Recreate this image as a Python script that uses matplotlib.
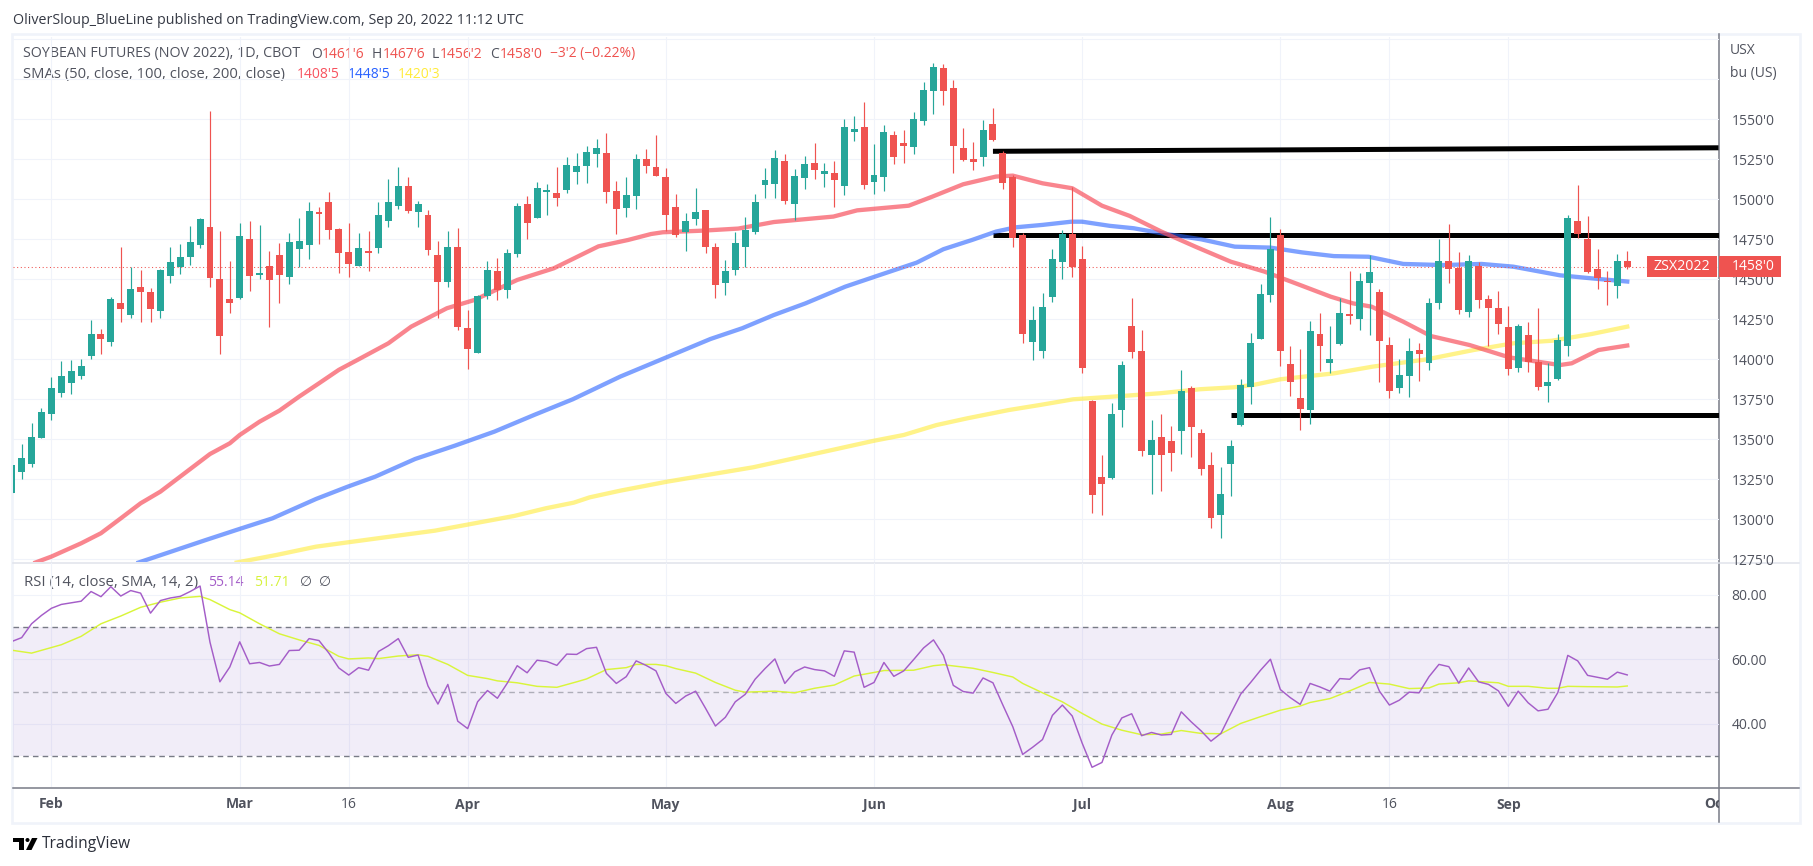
import matplotlib
matplotlib.use('Agg')
import matplotlib.pyplot as plt
from matplotlib.patches import Rectangle, Polygon, Circle

W, H = 1813, 866

# bar numbers: 0 is Feb 1
first_bar = -4
opens = [1316.5,1329.8,1334.8,1351,1366,1379.2,1385.4,1389.8,1402.3,1415.6,
         1411,1435,1427.9,1445,1441.9,1430.2,1452.3,1458,1464.2,1471.7,
         1482.5,1450,1437.7,1438.6,1475,1452.9,1458.1,1465,1451.7,1469,
         1471.7,1491.9,1498.1,1481.3,1466.9,1458.6,1467.5,1469.8,1486.7,1496,
         1508.1,1492.3,1490,1465,1448.5,1470,1419.4,1404.2,1439.8,1455,
         1443.6,1466,1496.9,1488.6,1504.8,1503.8,1506,1517.3,1521,1528.6,
         1528.8,1505.2,1494.8,1502.3,1525,1520.2,1514,1495,1479.8,1487.7,
         1493.1,1470,1447.9,1456,1470.4,1479.4,1509.2,1509.8,1523.8,1497.3,
         1513.6,1522.5,1516,1516.3,1508.6,1542.3,1545,1511,1514.2,1540,
         1535,1532.9,1549.2,1567.9,1581.9,1569.4,1531.9,1525,1526.7,1546.9,
         1528.8,1513.8,1477.5,1411,1405.4,1439.2,1461,1478.3,1462.5,1374,
         1326.3,1326,1368.6,1420.6,1405,1340.4,1351.3,1348.8,1355.4,1381.9,
         1353.8,1333.8,1302.9,1334.8,1359.2,1382.9,1412.9,1440.2,1477.7,1397,
         1375.8,1368.5,1415.8,1397.9,1409.5,1428.1,1425.2,1447.9,1441.8,1408.7,
         1382.3,1389.8,1405.8,1397.9,1435.4,1461.2,1457,1429.6,1458.3,1437.5,
         1431.8,1420,1394.5,1415,1398.1,1383.3,1387.7,1408.5,1486.2,1475,
         1456.2,1448.9,1445.8,1461.75]
highs = [1334,1347.1,1360,1369.4,1388.8,1398.8,1399.6,1400,1424.4,1418.8,
         1438.8,1470,1458,1455.8,1444.4,1456.5,1470,1471.9,1483.1,1488.1,
         1555.2,1480,1461.7,1485,1486.3,1483.8,1467.5,1472.5,1478.8,1488.1,
         1498.3,1495,1504.4,1481.9,1485,1478.8,1480,1498.1,1512.5,1520,
         1513.8,1498.8,1493.1,1473.8,1480,1481.9,1430.6,1440.4,1461.3,1463.1,
         1468.8,1497.5,1501.9,1510.6,1509.4,1520,1526.3,1528.8,1533.1,1537.5,
         1541.3,1511.5,1514,1528.1,1531.3,1540,1519.4,1503.1,1491.3,1506.9,
         1493.1,1472.5,1461.9,1479.4,1488.8,1503.1,1519.4,1530.6,1528.1,1518.8,
         1526.9,1535,1522.5,1523.8,1550,1551.9,1560.6,1534.4,1546.3,1542.5,
         1543.1,1554.4,1573.1,1585,1584.4,1574.4,1544.4,1535.6,1549.4,1556.9,
         1530,1515,1478.8,1433.3,1441.3,1468.8,1480.6,1507.9,1470.9,1374.6,
         1340,1372.5,1398.8,1438.1,1418.1,1361.9,1365.6,1358.1,1393.1,1383.1,
         1356.3,1341.9,1332.5,1349.4,1387.5,1416.3,1446.9,1488.9,1481.4,1408.3,
         1406.4,1423.7,1428.7,1420.8,1438.3,1455.2,1453.7,1465,1443.7,1413.7,
         1400,1413.1,1410,1438.1,1475,1484.5,1466.8,1465,1460.6,1440.2,
         1442.5,1433.1,1421.8,1423.1,1431.8,1397.5,1415.6,1490,1508.9,1489.5,
         1468.7,1455,1465.6,1467.75]
lows = [1316.5,1325.2,1333,1351,1362.3,1376.7,1378.6,1388,1400.4,1403.6,
        1408.6,1423.6,1426,1423.6,1423.6,1426,1447.9,1453.6,1459.2,1469.4,
        1445.4,1403.6,1429.2,1438,1442.9,1450.4,1420.4,1435.4,1447.3,1458,
        1462.9,1472.3,1475.4,1454.2,1451.3,1458.6,1455.4,1466.7,1483,1494.2,
        1491.7,1482.9,1465.4,1426,1445.4,1418.4,1394.2,1404,1438,1437.1,
        1438.4,1463.8,1475.4,1488.6,1490.4,1496,1504.2,1509.4,1510.4,1520.4,
        1497.9,1478.6,1489.2,1494.2,1516.7,1514.8,1480.4,1476.7,1467.9,1484.2,
        1466.7,1438.6,1440.4,1452.9,1457.9,1478.6,1500.6,1500.6,1497.3,1487.3,
        1506.5,1512.9,1507.9,1495.4,1502.9,1536.7,1506.7,1503.6,1505.4,1522.3,
        1522.9,1528.6,1546.7,1553.6,1559.2,1516.7,1524.2,1518.6,1521.1,1536.7,
        1506.7,1470.4,1410,1399.6,1400.9,1436.1,1450.4,1451.7,1391.7,1304.2,
        1302.9,1325.2,1357.9,1401,1339.8,1316.1,1318,1330.4,1341.1,1339.2,
        1327.9,1294.8,1288.6,1314.8,1358.6,1372.3,1412.9,1435.8,1395.8,1377,
        1355.8,1359.5,1392.7,1391.4,1408.9,1422,1418.3,1415.2,1385.8,1375.8,
        1378.9,1376.4,1386.4,1393.3,1431.6,1447.9,1428.5,1426.6,1432.3,1408.3,
        1415.8,1390.2,1392,1392,1380.8,1373.3,1387,1402,1475.8,1453.9,
        1444.1,1434,1438.3,1456.25]
closes = [1334,1338.1,1351.3,1366.9,1381.9,1389.4,1392.5,1395.6,1415.6,1412.7,
          1437.5,1431.7,1443.8,1442.1,1431.7,1455.8,1460.6,1463.8,1473.1,1487.5,
          1451,1414.8,1435.2,1476.9,1452.3,1453.8,1449.8,1452.9,1473.1,1473.8,
          1492.5,1491.1,1481,1466.7,1459.8,1469.4,1466.5,1490,1498.1,1508.1,
          1492.9,1496.9,1468.6,1448.5,1470,1420.4,1406.7,1439.8,1455.6,1443.6,
          1466.3,1495.6,1485.4,1506.9,1505.6,1501,1521.3,1520.6,1529.4,1531.9,
          1504.8,1494,1502.7,1525,1521,1514.8,1490.4,1478,1486.3,1491.9,
          1470.4,1446.7,1455,1472.5,1480.6,1498.1,1511.9,1525.6,1499.2,1514.4,
          1521.9,1518.6,1517.5,1512.3,1545,1543.8,1509.2,1515,1541.9,1526.7,
          1533.6,1550,1568.1,1582.5,1567.9,1533.6,1524.8,1523.6,1543.1,1537.1,
          1510.4,1476.1,1415.6,1424.6,1432.5,1462.5,1478.3,1458,1394.6,1315.4,
          1322.3,1365.6,1396.3,1404.8,1342.9,1349.4,1340.4,1341.7,1380,1357.9,
          1331.7,1301,1315.6,1345.6,1383.8,1410,1440.6,1468.9,1405.4,1385.8,
          1369.1,1417.5,1408.3,1400,1428.7,1427.3,1448.7,1454.3,1411.6,1380.4,
          1390,1405,1403.3,1435,1461.2,1456.6,1431,1461.2,1437.3,1432.3,
          1422.3,1393.9,1420.6,1398.3,1382.7,1385.6,1411.8,1488.3,1478.3,1454.5,
          1450.8,1448.3,1461.2,1458]

sma50_bar = [-1.6,0,3,5,7,9,11,13,16,18,19,21,23,25,27,29,31,34,36.3,39.9,42.7,47,50.7,55.2,
             58.2,60.5,61.7,65.7,69.3,72.9,78.9,81.3,86.5,88.9,92,95.3,97,100,103,106,108.8,
             112,115.5,119,122.4,126,129.1,131.3,133.2,136.4,139.2,143.1,147.1,152.2,153.4,156.1,159]
sma50 = [1273,1276.7,1285,1291.3,1300.6,1310,1317.3,1326.7,1340.8,1347.5,1352.7,1361,1367.9,1376.7,1385,1393.4,1400,1410,1420.4,1431.9,1437.1,1449.6,1456.9,1470.6,
         1474.6,1478.3,1479.4,1480.4,1481.7,1485.8,1489.2,1493.1,1496,1501.7,1509.4,1514.2,1514.8,1510,1506.9,1496,1489.6,
         1479.8,1470.2,1461,1454.8,1446.4,1439.1,1435,1432.9,1423.5,1414.5,1408.9,1401.2,1396.4,1397.5,1405.8,1408.6]

sma100_bar = [8.8,11.6,15.6,18.7,22.3,26.7,29.9,32.7,36.7,40.7,44.7,48.7,52.6,57.4,
              66.5,69.7,72.9,76.1,80.1,83.3,87.3,90,92.9,95.3,97.3,100,102.9,104,106.8,109.2,112,
              116,119.4,123,126.2,129.4,132.9,136.4,140.4,144.3,147.5,152.2,155.4,159]
sma100 = [1273,1278.8,1287.1,1293.4,1300.6,1312.7,1320.4,1326.7,1337.7,1346,1354.8,1365.2,1375,1389.2,
          1412.7,1419.4,1427.7,1435,1445.4,1452.1,1460.4,1468.8,1474.6,1479.8,1482.5,1484,1486,1486,1483.4,1481.9,1478.8,
          1475,1470.4,1469.8,1466.8,1464.5,1464.1,1459.6,1458.9,1459.6,1457.9,1452.5,1450.6,1448.6]

sma200_bar = [18.7,22.7,26.7,29.9,34.7,38.7,42.7,46.7,49.9,52.7,54.3,57.4,62.1,70.8,79.2,83,86,89.3,
              92.4,96.6,99.8,103.1,107.2,111.9,115.9,119.3,121.3,124,127.3,129.4,133.3,138.8,143.5,147.5,151.4,155.4,159]
sma200 = [1273,1277.7,1282.9,1285.6,1289.6,1292.9,1297.5,1302.1,1306.9,1310.4,1313.7,1317.9,1323.5,1332.5,1343.9,1349.1,1352.7,1358.9,
          1363.1,1368.3,1371.5,1375,1376.7,1378.8,1381.3,1382.5,1384,1387.5,1389.8,1391.2,1395.4,1400,1405.8,1410,1411.6,1415.8,1420.4]

rsi = [65.5,66.7,71,73.6,75.8,77,77.5,78,81,79.4,82.5,79.6,81.3,80.5,74.3,78.2,79,79.5,81,82.7,
       65.3,53,57.6,65.4,58.6,59,57.9,58.4,62.7,62.8,66.4,65.8,61.9,57.3,55.1,57.4,56.6,62.4,64.2,66.4,
       60.6,61.3,51.7,46.1,52.2,40.8,38.5,46.8,50.3,47.9,52.6,58,55.8,59.7,59.3,58.1,61.6,61.5,63.3,63.7,
       55.6,52.5,54.6,59.5,58.1,56.4,49.4,46.3,48.6,50.1,44.8,39.3,42,46.8,49.1,53.8,57.1,60.1,52.5,56.1,
       57.6,56.8,56.4,54.7,62.6,62.2,51.3,52.8,59,54.7,56.4,59.9,63.5,66,61.2,51.9,50,49.5,54.2,52.7,
       45.8,39.1,30.5,32.7,35.1,42.6,45.8,42.4,34,26.5,28,36.5,41.8,43.1,36.3,37.3,36.5,36.7,43.7,40.6,
       37.8,34.6,37,43.2,49.2,52.8,56.6,60,50.6,48.1,46,52.5,51.4,50.1,54,53.8,56.7,57.4,50.1,45.8,
       47.3,49.8,49.6,54.6,58.4,57.7,52.6,57.3,53,52.2,50.2,45.4,50.1,46.5,44,44.5,49.7,61.2,59.5,55,
       54.4,53.8,56,55.14]

rsi_ma_bar = [-4,-2,1,3,5,7,9,11,13,15,16,18,19,21,23,25,27,29,30,32,33,35,37,38,40,42,44,45,47,49,51,53,54,56,
              58,59,61,62,63,65,67,69,70,73,75,77,79,81,83,84,87,89,90,93,95,97,98,100,102,104,106,108,110,112,114,116,118,
              120,122,124,126,127,129,131,133,135,137,139,140,142,143,146,147,149,151,152,153,155,158,159]
rsi_ma = [62.8,61.9,64.5,67.1,71,73.4,76.1,77.7,79,79.5,78.5,75.4,74.4,71,67.9,66,64.3,60.9,60.1,60.4,60.2,61,61.4,60.9,58.4,55,54,53.3,52.7,51.6,51.3,53,53.9,56.8,
          57.4,58.4,58.4,58,57.1,55.7,52.8,50.4,49.8,50.1,49.6,51,52,54.8,55.9,56.5,56.6,58,58.3,57.2,55.9,54.5,52.5,49.6,46.8,43.2,39.9,38,36.6,36.8,37.9,37,36.9,
          40.1,42.2,44.2,45.5,46.6,47.8,50.2,52.8,52.3,50.9,51.1,52.3,52.7,53.3,52.7,51.6,51.6,51,51,51.6,51.5,51.4,51.71]

price_ticks = [1275,1300,1325,1350,1375,1400,1425,1450,1475,1500,1525,1550]
price_grid = price_ticks + [1575,1600]
rsi_ticks = [40,60,80]
date_bars = [0,19,30,42,62,83,104,124,135,147,168]
date_labels = ['Feb','Mar','16','Apr','May','Jun','Jul','Aug','16','Sep','Oct']
date_bold = [True,True,False,True,True,True,True,True,False,True,True]

# hand drawn levels: start bar and price at both ends
level_start = [95,95,119]
level_left = [1530,1477.4,1365]
level_right = [1532.2,1477.4,1365]

TEAL = '#26a69a'
RED = '#ef5350'
GRID = '#f0f3fa'
AXIS = '#787b86'
TEXT = '#50535e'

plt.rcParams['font.family'] = ['Open Sans', 'DejaVu Sans']

# pixel mapping of the panes
left, right = 13, 1718.5
bar0_x, bar_w = 51.4, 9.911
xlim = ((left - bar0_x) / bar_w, (right - bar0_x) / bar_w)


def pane(top, bottom):
    return [left / W, 1 - bottom / H, (right - left) / W, (bottom - top) / H]


fig = plt.figure(figsize=(W / 100, H / 100), dpi=100, facecolor='white')

# overlay in pixels for frame, legends and logo
bg = fig.add_axes([0, 0, 1, 1], zorder=0)
bg.set_xlim(0, W)
bg.set_ylim(H, 0)
bg.axis('off')
bg.add_patch(Rectangle((12, 33.5), 1788, 789, fill=False, ec=GRID, lw=1.9))
bg.plot([1718.5, 1718.5], [34, 822], color=AXIS, lw=1.1, zorder=1)
bg.plot([13, 1799], [787.5, 787.5], color=AXIS, lw=1.1, zorder=1)
bg.plot([13, 1799], [562.5, 562.5], color='#e0e3eb', lw=1.1, zorder=1)

bg.add_patch(Rectangle((13, 838), 11, 4, color='black', lw=0))
bg.add_patch(Rectangle((18.5, 838), 5.5, 12, color='black', lw=0))
bg.add_patch(Circle((27.5, 840), 2, color='black', lw=0))
bg.add_patch(Polygon([[32, 838], [37.5, 838], [31.5, 850], [26, 850]], color='black', lw=0))


def label(x, y, s, color=TEXT, size=10.3):
    bg.text(x, y, s, color=color, fontsize=size, va='center', ha='left')


label(13, 20, 'OliverSloup_BlueLine published on TradingView.com, Sep 20, 2022 11:12 UTC', color='#363a45', size=10.3)
label(23, 54, 'SOYBEAN FUTURES (NOV 2022), 1D, CBOT', size=10.3)
for x, s, c in [(311, 'O', TEXT), (322, "1461'6", RED), (372, 'H', TEXT), (382.5, "1467'6", RED),
                (432, 'L', TEXT), (440, "1456'2", RED), (490.5, 'C', TEXT), (500, "1458'0", RED),
                (550.5, "\u22123'2 (\u22120.22%)", RED)]:
    label(x, 54, s, color=c, size=10)
label(23, 74.5, 'SMAs (50, close, 100, close, 200, close)', size=10.6)
for x, s, c in [(296.5, "1408'5", '#f7525f'), (347.5, "1448'5", '#2962ff'), (398, "1420'3", '#ffeb3b')]:
    label(x, 74.5, s, color=c, size=10)
label(23.5, 582.5, 'RSI (14, close, SMA, 14, 2)', size=10.7)
label(208.5, 582.5, '55.14', color='#a45dc8', size=10)
label(254, 582.5, '51.71', color='#d6f23c', size=10)
label(300, 582.5, '\u2205', size=10)
label(319, 582.5, '\u2205', size=10)
label(1730, 50, 'USX', size=10)
label(1730, 74, 'bu (US)', size=10)
label(42, 844.5, 'TradingView', color='#2a2e39', size=11.2)

# price pane
ax = fig.add_axes(pane(37, 562), zorder=2)
ax.patch.set_alpha(0)
ax.set_xlim(xlim)
ax.set_ylim(1525 - (562 - 159.3) / 1.6, 1525 + (159.3 - 37) / 1.6)
ax.set_yticks(price_grid)
ax.set_yticklabels([f"{p}'0" if p in price_ticks else '' for p in price_grid])
ax.yaxis.tick_right()
ax.set_xticks(date_bars[:-1])
ax.tick_params(axis='both', length=0, labelbottom=False, labelsize=10, labelcolor=TEXT, pad=9.5)
ax.grid(True, color=GRID, lw=0.8)
ax.set_axisbelow(True)
for spine in ax.spines.values():
    spine.set_visible(False)

for start, y0, y1 in zip(level_start, level_left, level_right):
    ax.plot([start, xlim[1]], [y0, y1], color='black', lw=3.6, solid_capstyle='butt', zorder=2)

ax.plot(sma200_bar, sma200, color='#ffeb3b', alpha=0.6, lw=3.1, zorder=3, solid_joinstyle='round')
ax.plot(sma100_bar, sma100, color='#2962ff', alpha=0.6, lw=3.1, zorder=3, solid_joinstyle='round')
ax.plot(sma50_bar, sma50, color='#f7525f', alpha=0.7, lw=3.1, zorder=3, solid_joinstyle='round')
ax.axhline(closes[-1], color=RED, lw=0.75, ls=(0, (1, 2.5)), zorder=3.5)

bars = list(range(first_bar, first_bar + len(closes)))
colors = [TEAL if c >= o else RED for o, c in zip(opens, closes)]
ax.vlines(bars, lows, highs, colors=colors, lw=0.85, zorder=4)
ax.bar(bars, [abs(c - o) for o, c in zip(opens, closes)], bottom=[min(o, c) for o, c in zip(opens, closes)],
       width=0.7, color=colors, lw=0, zorder=4.5)

# price tags on the axis
y_tag = 266.3
tag_ax = fig.add_axes([0, 0, 1, 1], zorder=3)
tag_ax.set_xlim(0, W)
tag_ax.set_ylim(H, 0)
tag_ax.axis('off')
tag_ax.add_patch(Rectangle((1647, 256), 70, 20.7, color=RED, lw=0))
tag_ax.add_patch(Rectangle((1719, 256), 62, 20.7, color=RED, lw=0))
tag_ax.text(1682, y_tag, 'ZSX2022', color='white', fontsize=10.3, ha='center', va='center')
tag_ax.text(1731.5, y_tag, "1458'0", color='white', fontsize=10, ha='left', va='center')

# rsi pane
ax2 = fig.add_axes(pane(563, 787), zorder=2)
ax2.patch.set_alpha(0)
ax2.set_xlim(xlim)
ax2.set_ylim(50 - (787 - 691.5) / 3.225, 50 + (691.5 - 563) / 3.225)
ax2.set_yticks(rsi_ticks)
ax2.set_yticklabels([f'{v:.2f}' for v in rsi_ticks])
ax2.yaxis.tick_right()
ax2.set_xticks(date_bars[:-1])
ax2.tick_params(axis='both', length=0, labelbottom=False, labelsize=10, labelcolor=TEXT, pad=9.5)
ax2.grid(True, color=GRID, lw=0.8)
ax2.set_axisbelow(True)
for spine in ax2.spines.values():
    spine.set_visible(False)
ax2.axhspan(30, 70, color='#9575cd', alpha=0.13, lw=0, zorder=1)
ax2.axhline(70, color=AXIS, lw=1, ls=(0, (4, 3)), zorder=2)
ax2.axhline(50, color=AXIS, alpha=0.55, lw=1, ls=(0, (4, 3)), zorder=2)
ax2.axhline(30, color=AXIS, lw=1, ls=(0, (4, 3)), zorder=2)
ax2.plot(rsi_ma_bar, rsi_ma, color='#d9f53a', lw=1.05, zorder=3)
ax2.plot(bars, rsi, color='#a45dc8', lw=1.05, zorder=4)

# time axis, labels are cut at the price axis
ax3 = fig.add_axes(pane(788, 821), zorder=2)
ax3.set_xlim(xlim)
ax3.set_ylim(1, 0)
ax3.axis('off')
for b, s, bold in zip(date_bars, date_labels, date_bold):
    ax3.text(b, 0.5, s, color=TEXT, fontsize=10, ha='center', va='center', clip_on=True,
             fontweight='bold' if bold else 'normal')

fig.savefig('out.png', dpi=100)
plt.close(fig)
